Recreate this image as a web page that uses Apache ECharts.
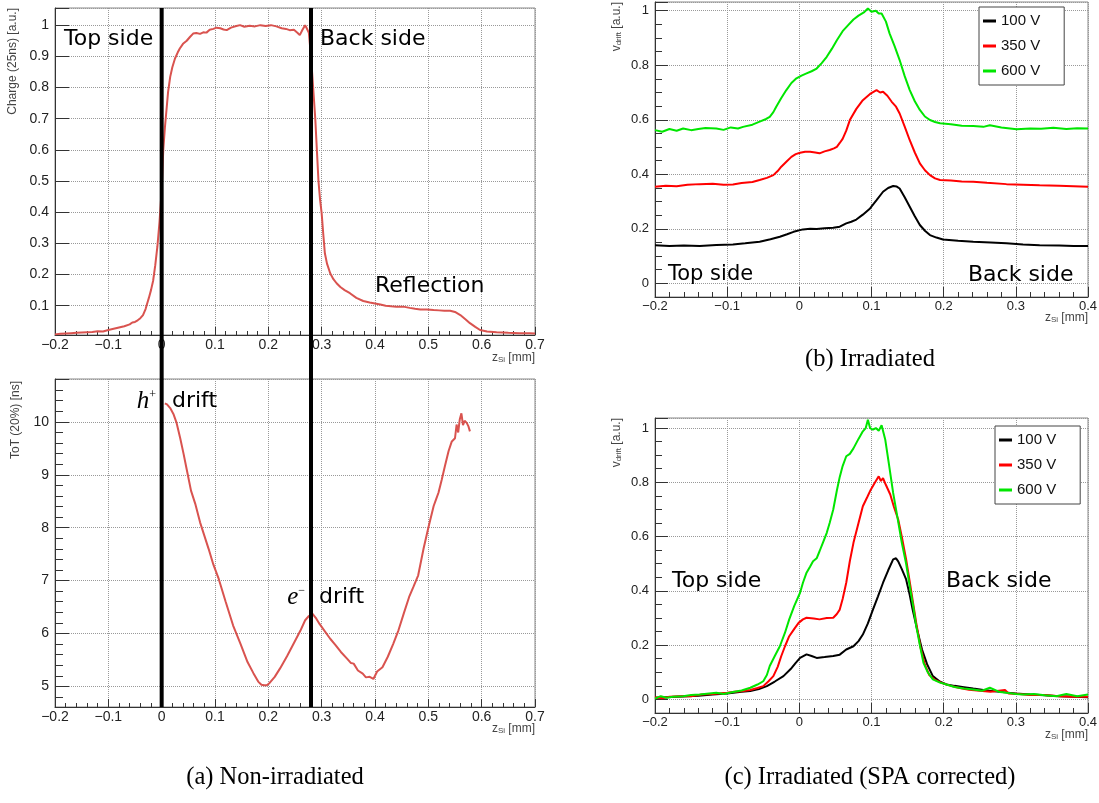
<!DOCTYPE html>
<html>
<head>
<meta charset="utf-8">
<script src="https://cdn.jsdelivr.net/npm/echarts@6/dist/echarts.min.js"></script>
<style>
  html, body { margin: 0; padding: 0; background: #fff; }
  #chart { width: 1099px; height: 803px; }
</style>
</head>
<body>
<div id="chart"></div>
<script>
// ---- (a) non-irradiated: charge vs z ----
const chargeZ = [-0.2, -0.19, -0.18, -0.17, -0.16, -0.15, -0.14, -0.13, -0.12, -0.11, -0.1, -0.09, -0.08, -0.07, -0.06, -0.055,
  -0.05, -0.045, -0.04, -0.035, -0.03, -0.028, -0.024, -0.02, -0.016, -0.012, -0.008, -0.004, 0, 0.003, 0.006, 0.009, 0.012,
  0.016, 0.02, 0.025, 0.03, 0.034, 0.04, 0.047, 0.053, 0.059, 0.065, 0.072, 0.078, 0.084, 0.09, 0.097, 0.103, 0.11, 0.116,
  0.122, 0.13, 0.14, 0.147, 0.155, 0.165, 0.175, 0.185, 0.195, 0.205, 0.215, 0.225, 0.233, 0.24, 0.248, 0.255, 0.259, 0.264,
  0.269, 0.272, 0.276, 0.28, 0.284, 0.288, 0.291, 0.294, 0.297, 0.3, 0.303, 0.306, 0.31, 0.316, 0.322, 0.328, 0.335, 0.343,
  0.353, 0.365, 0.378, 0.39, 0.4, 0.41, 0.42, 0.43, 0.44, 0.453, 0.465, 0.475, 0.485, 0.497, 0.51, 0.52, 0.53, 0.541, 0.55,
  0.56, 0.57, 0.578, 0.588, 0.597, 0.61, 0.628, 0.65, 0.67, 0.69, 0.7];
const chargeVal = [0.008, 0.01, 0.011, 0.012, 0.013, 0.014, 0.015, 0.016, 0.018, 0.017, 0.022, 0.026, 0.03, 0.034, 0.04, 0.046,
  0.048, 0.053, 0.06, 0.07, 0.09, 0.102, 0.125, 0.15, 0.18, 0.23, 0.29, 0.37, 0.47, 0.6, 0.67, 0.727, 0.785,
  0.834, 0.865, 0.893, 0.912, 0.925, 0.94, 0.95, 0.962, 0.973, 0.975, 0.972, 0.977, 0.976, 0.985, 0.988, 0.992, 0.99, 0.986,
  0.984, 0.992, 0.997, 1.0, 0.995, 0.998, 0.996, 1.0, 0.997, 1.0, 0.996, 0.99, 0.988, 0.984, 0.985, 0.975, 0.968, 0.985,
  1.0, 0.99, 0.975, 0.9, 0.8, 0.7, 0.6, 0.5, 0.44, 0.396, 0.33, 0.268, 0.235, 0.204, 0.185, 0.172, 0.16, 0.15,
  0.14, 0.125, 0.115, 0.11, 0.107, 0.104, 0.1, 0.098, 0.097, 0.097, 0.093, 0.09, 0.088, 0.088, 0.086, 0.085, 0.084, 0.084, 0.08,
  0.07, 0.056, 0.044, 0.032, 0.022, 0.017, 0.015, 0.013, 0.012, 0.012, 0.011];

// ---- (a) non-irradiated: ToT vs z ----
const totZ = [0.006, 0.01, 0.016, 0.022, 0.028, 0.035, 0.041, 0.047, 0.055, 0.063, 0.072, 0.08, 0.088, 0.097, 0.107, 0.12,
  0.134, 0.148, 0.161, 0.172, 0.181, 0.187, 0.192, 0.197, 0.202, 0.212, 0.222, 0.235, 0.249, 0.26, 0.269, 0.276, 0.283,
  0.29, 0.296, 0.306, 0.316, 0.326, 0.336, 0.348, 0.355, 0.36, 0.368, 0.377, 0.383, 0.39, 0.397, 0.404, 0.414, 0.424,
  0.434, 0.444, 0.454, 0.464, 0.472, 0.481, 0.491, 0.5, 0.51, 0.515, 0.519, 0.525, 0.531, 0.538, 0.544, 0.55, 0.553,
  0.556, 0.559, 0.562, 0.565, 0.568, 0.572, 0.575, 0.578];
const totVal = [10.35, 10.33, 10.26, 10.15, 9.98, 9.68, 9.4, 9.1, 8.7, 8.45, 8.1, 7.85, 7.6, 7.3, 7.03, 6.6,
  6.15, 5.8, 5.46, 5.25, 5.09, 5.03, 5.02, 5.02, 5.06, 5.18, 5.34, 5.57, 5.84, 6.05, 6.25, 6.33, 6.37,
  6.28, 6.18, 6.04, 5.9, 5.78, 5.65, 5.52, 5.44, 5.43, 5.3, 5.24, 5.17, 5.18, 5.14, 5.28, 5.36, 5.56,
  5.8, 6.06, 6.38, 6.69, 6.88, 7.1, 7.6, 8.0, 8.41, 8.55, 8.66, 8.9, 9.16, 9.45, 9.63, 9.69, 9.95,
  9.8, 10.05, 10.16, 9.94, 10.02, 9.98, 9.92, 9.82];

// detector surfaces (mm)
const boundaryZ = [0, 0.28];

// ---- (b) irradiated ----
const b600Z = [-0.2, -0.19, -0.18, -0.17, -0.161, -0.15, -0.14, -0.13, -0.115, -0.105, -0.095, -0.085, -0.078, -0.065, -0.055,
  -0.046, -0.041, -0.036, -0.032, -0.025, -0.018, -0.011, -0.004, 0.003, 0.01, 0.017, 0.024, 0.031, 0.038, 0.045, 0.052,
  0.06, 0.068, 0.075, 0.082, 0.09, 0.095, 0.1, 0.106, 0.11, 0.114, 0.12, 0.125, 0.132, 0.139, 0.146, 0.153, 0.16, 0.167,
  0.174, 0.181, 0.188, 0.195, 0.21, 0.225, 0.241, 0.255, 0.264, 0.28, 0.301, 0.32, 0.335, 0.352, 0.37, 0.385, 0.4];
const b600Val = [0.562, 0.556, 0.566, 0.56, 0.568, 0.562, 0.566, 0.57, 0.568, 0.563, 0.572, 0.568, 0.574, 0.582, 0.593,
  0.603, 0.611, 0.628, 0.648, 0.68, 0.709, 0.735, 0.752, 0.762, 0.77, 0.778, 0.788, 0.808, 0.831, 0.86, 0.892,
  0.925, 0.948, 0.968, 0.982, 0.995, 1.008, 0.996, 1.0, 0.99, 0.99, 0.96, 0.917, 0.87, 0.819, 0.76, 0.709, 0.668, 0.636,
  0.612, 0.599, 0.592, 0.587, 0.584, 0.578, 0.577, 0.574, 0.58, 0.572, 0.565, 0.568, 0.567, 0.571, 0.566, 0.569, 0.568];
const b350Z = [-0.2, -0.185, -0.17, -0.155, -0.138, -0.12, -0.105, -0.092, -0.08, -0.065, -0.055, -0.045, -0.036, -0.03,
  -0.025, -0.018, -0.011, -0.005, 0.001, 0.008, 0.015, 0.022, 0.028, 0.035, 0.042, 0.048, 0.052, 0.056, 0.06, 0.065, 0.07,
  0.079, 0.088, 0.098, 0.107, 0.112, 0.116, 0.122, 0.128, 0.134, 0.139, 0.146, 0.153, 0.16, 0.167, 0.174, 0.181, 0.188,
  0.195, 0.21, 0.225, 0.241, 0.26, 0.287, 0.31, 0.333, 0.36, 0.38, 0.4];
const b350Val = [0.354, 0.358, 0.356, 0.362, 0.364, 0.365, 0.362, 0.363, 0.368, 0.372, 0.379, 0.387, 0.397, 0.412,
  0.428, 0.446, 0.464, 0.474, 0.479, 0.483, 0.483, 0.48, 0.477, 0.484, 0.489, 0.495, 0.501, 0.515, 0.53, 0.56, 0.599,
  0.64, 0.672, 0.695, 0.709, 0.7, 0.703, 0.688, 0.666, 0.648, 0.623, 0.575, 0.525, 0.48, 0.44, 0.415, 0.397, 0.385,
  0.379, 0.377, 0.374, 0.373, 0.369, 0.364, 0.362, 0.36, 0.358, 0.356, 0.354];
const b100Z = [-0.2, -0.18, -0.16, -0.138, -0.115, -0.092, -0.075, -0.055, -0.04, -0.027, -0.017, -0.008, 0.005, 0.015,
  0.024, 0.035, 0.047, 0.056, 0.065, 0.072, 0.079, 0.088, 0.098, 0.107, 0.116, 0.123, 0.13, 0.135, 0.139, 0.146, 0.153,
  0.16, 0.167, 0.174, 0.181, 0.19, 0.199, 0.22, 0.241, 0.265, 0.287, 0.31, 0.333, 0.36, 0.38, 0.4];
const b100Val = [0.14, 0.137, 0.139, 0.137, 0.141, 0.143, 0.147, 0.153, 0.162, 0.171, 0.18, 0.189, 0.198, 0.2,
  0.199, 0.202, 0.204, 0.208, 0.22, 0.226, 0.234, 0.252, 0.275, 0.305, 0.336, 0.35, 0.357, 0.355, 0.348, 0.316, 0.281,
  0.246, 0.214, 0.193, 0.177, 0.168, 0.161, 0.156, 0.153, 0.15, 0.147, 0.143, 0.14, 0.139, 0.137, 0.137];

// ---- (c) irradiated, SPA corrected ----
const c600Z = [-0.2, -0.192, -0.184, -0.175, -0.161, -0.15, -0.138, -0.125, -0.115, -0.105, -0.092, -0.08, -0.068, -0.058,
  -0.05, -0.045, -0.041, -0.034, -0.027, -0.02, -0.014, -0.007, 0.001, 0.005, 0.01, 0.015, 0.019, 0.024, 0.028, 0.033,
  0.038, 0.042, 0.047, 0.052, 0.056, 0.06, 0.065, 0.07, 0.075, 0.082, 0.088, 0.092, 0.095, 0.098, 0.102, 0.106, 0.11,
  0.114, 0.119, 0.124, 0.13, 0.136, 0.142, 0.148, 0.153, 0.158, 0.162, 0.167, 0.172, 0.178, 0.185, 0.195, 0.204, 0.215,
  0.228, 0.241, 0.253, 0.264, 0.278, 0.29, 0.3, 0.31, 0.325, 0.34, 0.356, 0.37, 0.385, 0.4];
const c600Val = [0.003, 0.012, 0.006, 0.01, 0.012, 0.016, 0.018, 0.022, 0.025, 0.02, 0.027, 0.033, 0.043, 0.055,
  0.067, 0.09, 0.123, 0.16, 0.196, 0.245, 0.295, 0.345, 0.393, 0.43, 0.467, 0.49, 0.509, 0.52, 0.546, 0.58,
  0.614, 0.65, 0.7, 0.77, 0.82, 0.86, 0.896, 0.905, 0.925, 0.96, 0.988, 1.0, 1.031, 1.0, 0.994, 1.0, 0.99,
  1.01, 0.958, 0.87, 0.761, 0.67, 0.577, 0.5, 0.417, 0.34, 0.27, 0.2, 0.135, 0.1, 0.074, 0.062, 0.055, 0.046,
  0.04, 0.037, 0.032, 0.043, 0.027, 0.024, 0.02, 0.018, 0.02, 0.015, 0.012, 0.02, 0.012, 0.018];
const c350Z = [-0.2, -0.19, -0.18, -0.165, -0.15, -0.135, -0.12, -0.1, -0.09, -0.08, -0.068, -0.058, -0.05, -0.043, -0.036,
  -0.03, -0.025, -0.02, -0.014, -0.007, -0.001, 0.005, 0.01, 0.02, 0.028, 0.038, 0.047, 0.052, 0.056, 0.06, 0.065, 0.07,
  0.075, 0.082, 0.088, 0.094, 0.099, 0.105, 0.11, 0.113, 0.116, 0.12, 0.126, 0.131, 0.137, 0.142, 0.148, 0.155, 0.162,
  0.168, 0.174, 0.18, 0.188, 0.198, 0.21, 0.222, 0.235, 0.25, 0.265, 0.285, 0.29, 0.305, 0.32, 0.34, 0.36, 0.38, 0.4];
const c350Val = [0.008, 0.004, 0.01, 0.012, 0.012, 0.018, 0.02, 0.025, 0.028, 0.03, 0.035, 0.042, 0.049, 0.066, 0.086,
  0.12, 0.16, 0.195, 0.233, 0.26, 0.282, 0.295, 0.301, 0.298, 0.295, 0.3, 0.301, 0.315, 0.331, 0.37, 0.43, 0.51,
  0.577, 0.65, 0.712, 0.745, 0.773, 0.8, 0.822, 0.805, 0.815, 0.79, 0.755, 0.71, 0.663, 0.6, 0.516, 0.4, 0.282,
  0.19, 0.128, 0.09, 0.072, 0.06, 0.05, 0.042, 0.036, 0.032, 0.028, 0.035, 0.022, 0.02, 0.016, 0.016, 0.012, 0.01, 0.01];
const c100Z = [-0.2, -0.185, -0.17, -0.155, -0.14, -0.12, -0.1, -0.08, -0.068, -0.056, -0.045, -0.034, -0.022, -0.012,
  -0.005, 0.001, 0.01, 0.017, 0.024, 0.035, 0.047, 0.056, 0.065, 0.075, 0.082, 0.088, 0.095, 0.102, 0.109, 0.116, 0.123,
  0.13, 0.134, 0.137, 0.142, 0.148, 0.153, 0.157, 0.163, 0.17, 0.177, 0.185, 0.195, 0.204, 0.215, 0.228, 0.241, 0.255,
  0.27, 0.285, 0.3, 0.32, 0.34, 0.36, 0.38, 0.4];
const c100Val = [0.006, 0.008, 0.01, 0.012, 0.014, 0.018, 0.022, 0.028, 0.031, 0.038, 0.049, 0.066, 0.086, 0.112,
  0.135, 0.153, 0.166, 0.16, 0.153, 0.156, 0.16, 0.165, 0.184, 0.196, 0.215, 0.239, 0.28, 0.331, 0.38, 0.43, 0.475,
  0.516, 0.52, 0.509, 0.48, 0.442, 0.385, 0.331, 0.26, 0.184, 0.13, 0.086, 0.065, 0.055, 0.05, 0.045, 0.04, 0.035,
  0.03, 0.026, 0.022, 0.018, 0.015, 0.012, 0.01, 0.008];

const voltages = ['100 V', '350 V', '600 V'];
const voltColors = ['#000000', '#ff0000', '#00e600'];

const SANS = '"Liberation Sans", Arial, sans-serif';
const DEJAVU = '"DejaVu Sans", sans-serif';
const SERIF = '"Liberation Serif", serif';

// ROOT style labels: only on round ticks, true minus sign
function rootLabel(step) {
  return function (v) {
    const k = v / step;
    if (Math.abs(k - Math.round(k)) > 1e-6) return '';
    return String(parseFloat((Math.round(k) * step).toFixed(4))).replace('-', '\u2212');
  };
}

function axis(o) {
  return {
    type: 'value',
    gridIndex: o.grid,
    min: o.min,
    max: o.max,
    interval: o.interval,
    splitNumber: o.split,
    axisLine: { show: true, onZero: false, lineStyle: { color: '#333', width: 1 } },
    axisTick: { show: true, inside: true, length: o.tick, lineStyle: { color: '#333' } },
    minorTick: { show: !!o.minor, splitNumber: o.minor || 5, length: o.minorLen, lineStyle: { color: '#333' } },
    splitLine: { show: true, lineStyle: { color: '#999', type: 'dotted', width: 1 } },
    axisLabel: { color: '#222', fontFamily: SANS, fontSize: o.font, margin: o.margin, formatter: rootLabel(o.step) }
  };
}

function hiddenAxis(grid, min, max) {
  return { type: 'value', gridIndex: grid, min: min, max: max, show: false };
}

function pairs(xs, ys) {
  return xs.map((x, i) => [x, ys[i]]);
}

function curve(name, xs, ys, idx, color, width) {
  return {
    type: 'line', name: name, xAxisIndex: idx, yAxisIndex: idx,
    data: pairs(xs, ys), symbol: 'none', showSymbol: false,
    lineStyle: { color: color, width: width }, itemStyle: { color: color },
    silent: true, z: 3
  };
}

function text(str, x, y, size, extra) {
  return {
    type: 'text', x: x, y: y, silent: true, z: 10,
    style: Object.assign({ text: str, fill: '#000', fontSize: size, fontFamily: DEJAVU,
      align: 'left', verticalAlign: 'middle' }, extra || {})
  };
}

function xTitle(x, y) {
  return {
    type: 'text', x: x, y: y, silent: true,
    style: {
      text: '{a|z}{b|Si}{a| [mm]}', align: 'right', verticalAlign: 'middle',
      rich: {
        a: { fontSize: 12, fontFamily: SANS, fill: '#444' },
        b: { fontSize: 8, fontFamily: SANS, fill: '#444', verticalAlign: 'bottom' }
      }
    }
  };
}

function yTitle(rich, x, y) {
  return {
    type: 'text', x: x, y: y, rotation: Math.PI / 2, silent: true,
    style: Object.assign({ align: 'right', verticalAlign: 'middle' }, rich)
  };
}

const vdrift = {
  text: '{a|v}{b|drift}{a| [a.u.]}',
  rich: {
    a: { fontSize: 12, fontFamily: SANS, fill: '#444' },
    b: { fontSize: 8, fontFamily: SANS, fill: '#444', verticalAlign: 'bottom' }
  }
};

const frame = { show: true, borderColor: '#888', borderWidth: 1, backgroundColor: 'transparent', outerBoundsMode: 'none' };

const chart = echarts.init(document.getElementById('chart'), null, { renderer: 'canvas' });

const series = [
  curve('charge', chargeZ, chargeVal, 0, '#d9534f', 2),
  curve('tot', totZ, totVal, 1, '#d9534f', 2)
];
boundaryZ.forEach(z => {
  series.push({
    type: 'line', name: 'surface', xAxisIndex: 2, yAxisIndex: 2,
    data: [[z, 0], [z, 1]], symbol: 'none', silent: true, z: 6,
    lineStyle: { color: '#000', width: 4 }
  });
});
const bData = [[b100Z, b100Val], [b350Z, b350Val], [b600Z, b600Val]];
const cData = [[c100Z, c100Val], [c350Z, c350Val], [c600Z, c600Val]];
bData.forEach((d, i) => series.push(curve(voltages[i], d[0], d[1], 3, voltColors[i], 2)));
cData.forEach((d, i) => series.push(curve(voltages[i], d[0], d[1], 4, voltColors[i], 2)));

function legendAt(left, top) {
  return {
    left: left, top: top, orient: 'vertical', data: voltages, selectedMode: false,
    icon: 'rect', itemWidth: 13, itemHeight: 3, itemGap: 9,
    padding: [6, 24, 6, 4], backgroundColor: '#fff', borderColor: '#444', borderWidth: 1, borderRadius: 0,
    textStyle: { fontFamily: SANS, fontSize: 15, color: '#111', lineHeight: 16 }
  };
}

const option = {
  animation: false,
  backgroundColor: '#fff',
  grid: [
    Object.assign({ left: 55, top: 8, width: 480, height: 327 }, frame),
    Object.assign({ left: 55, top: 379, width: 480, height: 328 }, frame),
    { left: 55, top: 8, width: 480, height: 699, show: false, outerBoundsMode: 'none' },
    Object.assign({ left: 655, top: 2, width: 433, height: 295 }, frame),
    Object.assign({ left: 655, top: 418, width: 433, height: 295 }, frame)
  ],
  xAxis: [
    axis({ grid: 0, min: -0.2, max: 0.7, interval: 0.1, step: 0.1, tick: 8, minor: 5, minorLen: 4, font: 14, margin: 3 }),
    axis({ grid: 1, min: -0.2, max: 0.7, interval: 0.1, step: 0.1, tick: 8, minor: 5, minorLen: 4, font: 14, margin: 3 }),
    hiddenAxis(2, -0.2, 0.7),
    axis({ grid: 3, min: -0.2, max: 0.4, interval: 0.1, step: 0.1, tick: 10, minor: 5, minorLen: 5, font: 13, margin: 3 }),
    axis({ grid: 4, min: -0.2, max: 0.4, interval: 0.1, step: 0.1, tick: 10, minor: 5, minorLen: 5, font: 13, margin: 3 })
  ],
  yAxis: [
    axis({ grid: 0, min: 0.006, max: 1.055, split: 10, step: 0.1, tick: 14, minor: 0, minorLen: 0, font: 14, margin: 6 }),
    axis({ grid: 1, min: 4.61, max: 10.81, split: 6, step: 1, tick: 14, minor: 5, minorLen: 8, font: 14, margin: 6 }),
    hiddenAxis(2, 0, 1),
    axis({ grid: 3, min: -0.05, max: 1.032, split: 5, step: 0.2, tick: 13, minor: 4, minorLen: 7, font: 13, margin: 6 }),
    axis({ grid: 4, min: -0.05, max: 1.037, split: 5, step: 0.2, tick: 13, minor: 4, minorLen: 7, font: 13, margin: 6 })
  ],
  legend: [legendAt(979, 7), legendAt(995, 426)],
  series: series,
  graphic: [
    // axis titles
    yTitle({ text: 'Charge (25ns) [a.u.]', fontSize: 12, fontFamily: SANS, fill: '#444' }, 13, 8),
    yTitle({ text: 'ToT (20%) [ns]', fontSize: 12, fontFamily: SANS, fill: '#444' }, 16, 381),
    yTitle(vdrift, 617, 2),
    yTitle(vdrift, 617, 418),
    xTitle(535, 358),
    xTitle(535, 729),
    xTitle(1088, 318),
    xTitle(1088, 735),
    // annotations
    text('Top side', 64, 39, 22),
    text('Back side', 320, 39, 22),
    text('Reflection', 375, 286, 22),
    {
      type: 'text', x: 156, y: 401, silent: true, z: 10,
      style: { text: '{i|h}{s|+}', align: 'right', verticalAlign: 'middle',
        rich: { i: { fontSize: 25, fontFamily: SERIF, fontStyle: 'italic', fill: '#000' },
                s: { fontSize: 12, fontFamily: SERIF, fill: '#000', verticalAlign: 'top' } } }
    },
    text('drift', 172, 401, 22),
    {
      type: 'text', x: 305, y: 597, silent: true, z: 10,
      style: { text: '{i|e}{s|\u2212}', align: 'right', verticalAlign: 'middle',
        rich: { i: { fontSize: 25, fontFamily: SERIF, fontStyle: 'italic', fill: '#000' },
                s: { fontSize: 12, fontFamily: SERIF, fill: '#000', verticalAlign: 'top' } } }
    },
    text('drift', 319, 597, 22),
    text('Top side', 668, 275, 21),
    text('Back side', 968, 275, 22),
    text('Top side', 672, 581, 22),
    text('Back side', 946, 581, 22),
    // captions
    text('(a) Non-irradiated', 275, 778, 24.5, { fontFamily: SERIF, align: 'center' }),
    text('(b) Irradiated', 870, 360, 24.5, { fontFamily: SERIF, align: 'center' }),
    text('(c) Irradiated (SPA corrected)', 870, 778, 24.5, { fontFamily: SERIF, align: 'center' })
  ]
};

chart.setOption(option);
</script>
</body>
</html>
